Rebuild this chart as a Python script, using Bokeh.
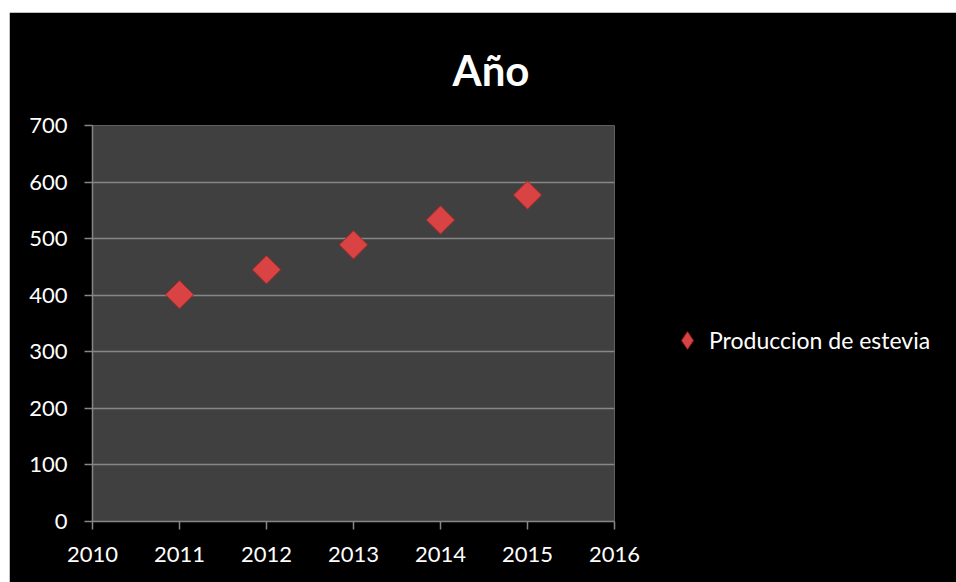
from bokeh.plotting import figure
from bokeh.models import Legend, LegendItem, FixedTicker, Range1d, Title
from bokeh.embed import file_html
from bokeh.resources import INLINE
import math

years = [2011, 2012, 2013, 2014, 2015]
produccion = [401, 445, 489, 533, 577]
x_ticks = [2010, 2011, 2012, 2013, 2014, 2015, 2016]
y_ticks = [0, 100, 200, 300, 400, 500, 600, 700]
series_name = "Produccion de estevia"
title_text = "Año"

FONT = "Lato"
RED = "#d94343"
RED_EDGE = "#9e2a2a"
p = figure(frame_width=522, frame_height=396, output_backend="svg", toolbar_location=None,
           x_range=Range1d(2010, 2016), y_range=Range1d(0, 700),
           min_border_left=83, min_border_right=342, min_border_top=113, min_border_bottom=61)
p.margin = (12, 0, 0, 9)
p.background_fill_color = "#404040"
p.border_fill_color = "black"
p.outline_line_color = None

p.title = Title(text=title_text, align="left", offset=360, standoff=61, vertical_align="bottom",
                text_color="white", text_font=FONT, text_font_size="42px",
                text_font_style="bold")

for ax in (p.xaxis[0], p.yaxis[0]):
    ax.axis_line_color = "#868686"
    ax.axis_line_width = 1.5
    ax.major_tick_line_color = "#868686"
    ax.major_tick_line_width = 1.5
    ax.major_tick_out = 8
    ax.major_tick_in = 0
    ax.minor_tick_line_color = None
    ax.major_label_text_color = "white"
    ax.major_label_text_font = FONT
    ax.major_label_text_font_size = "22px"
p.xaxis.ticker = FixedTicker(ticks=x_ticks)
p.yaxis.ticker = FixedTicker(ticks=y_ticks)
p.xaxis.major_label_standoff = 17
p.yaxis.major_label_standoff = 17
p.xgrid.grid_line_color = None
p.ygrid.grid_line_color = "#868686"
p.ygrid.grid_line_width = 1.5
p.ygrid.ticker = FixedTicker(ticks=y_ticks)

# diamond-shaped renderer used as the legend key (hidden beneath the main markers)
legend_key = p.scatter(years, produccion, marker="diamond", size=18,
                       fill_color=RED, line_color=RED_EDGE, line_width=1)
r = p.scatter(years, produccion, marker="square", size=20, angle=math.pi / 4,
              fill_color=RED, line_color=RED_EDGE, line_width=1)

legend = Legend(items=[LegendItem(label=series_name, renderers=[legend_key])],
                location=(51, 159), background_fill_alpha=0,
                border_line_color=None, label_text_color="white", label_text_font=FONT,
                label_text_font_size="23px", glyph_width=44, glyph_height=44,
                label_standoff=0, margin=0, padding=0)
p.add_layout(legend, "right")

open("out.html", "w").write(file_html(p, INLINE))
